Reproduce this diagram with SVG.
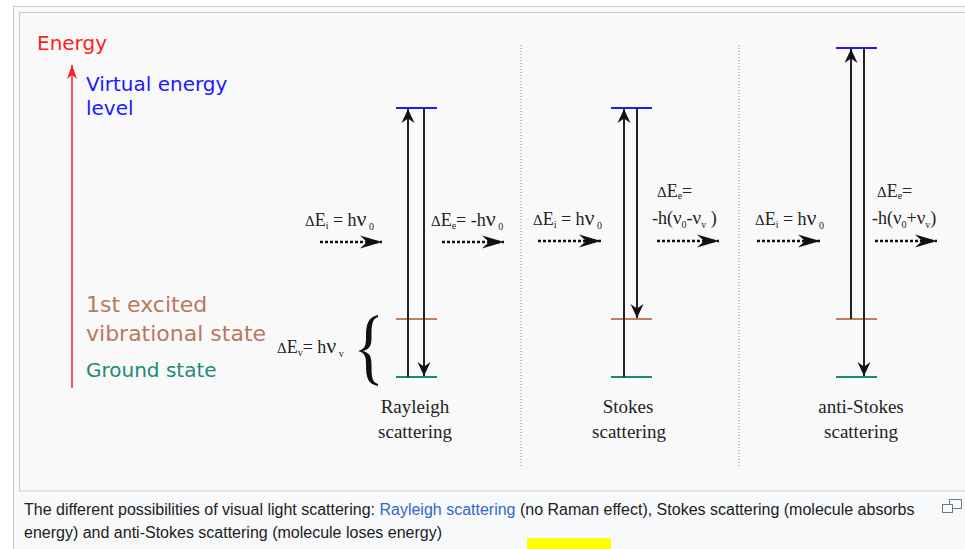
<svg xmlns="http://www.w3.org/2000/svg" width="965" height="549" viewBox="0 0 965 549">
<style>
.sans{font-family:"DejaVu Sans",sans-serif;font-size:20px}
.big{font-size:22px}
.serif{font-family:"Liberation Serif","Times New Roman",serif;fill:#222}
.lbl{font-size:19px;text-anchor:middle}
.fx{font-size:18px}
.nu{font-size:22px}
.nu2{font-size:19px}
.sub{font-size:10px}
.dlt{font-size:15px}
.cap{font-family:"Liberation Sans",Arial,sans-serif;font-size:16px;fill:#202122}
.tr{stroke:#222;stroke-width:2;fill:none}
.dot{stroke:#111;stroke-width:2.5;stroke-dasharray:3 2;fill:none}
.sep{stroke:#888;stroke-width:1;stroke-dasharray:1 2;fill:none}
.lv{stroke-width:2;fill:none}
.virt{stroke:#1a1aff}
.exc{stroke:#c0805e}
.gnd{stroke:#1b8a7a}
</style>
<defs>
<marker id="ah" viewBox="-14 -7 15 14" markerWidth="15" markerHeight="14" refX="0" refY="0" orient="auto" markerUnits="userSpaceOnUse">
<path d="M0,0 L-14,-6.5 L-9.5,0 L-14,6.5 Z" fill="#111"/>
</marker>
<marker id="dh" viewBox="-22 -7 23 14" markerWidth="23" markerHeight="14" refX="0" refY="0" orient="auto" markerUnits="userSpaceOnUse">
<path d="M0,0 L-22,-6.5 L-15,0 L-22,6.5 Z" fill="#111"/>
</marker>
<marker id="rh" viewBox="-14 -6 15 12" markerWidth="15" markerHeight="12" refX="0" refY="0" orient="auto" markerUnits="userSpaceOnUse">
<path d="M0,0 L-14,-5 L-10,0 L-14,5 Z" fill="#ff2020"/>
</marker>
</defs>
<rect x="0" y="0" width="965" height="549" fill="#ffffff"/>
<rect x="13.5" y="6.5" width="970" height="560" fill="#f8f9fa" stroke="#c8ccd1"/>
<rect x="19.5" y="12.5" width="960" height="478.5" fill="#f9f9f9" stroke="#c8ccd1"/>

<g id="axis">
<line x1="72" y1="388" x2="72" y2="65" stroke="#ff2020" stroke-width="1.5" marker-end="url(#rh)"/>
<text class="sans" x="37" y="50" fill="#ff2020">Energy</text>
</g>
<g id="legend">
<text class="sans" x="86" y="91" fill="#1a1aff">Virtual energy</text>
<text class="sans" x="86" y="115" fill="#1a1aff">level</text>
<text class="sans big" x="86" y="312" fill="#b87a5a">1st excited</text>
<text class="sans big" x="86" y="341" fill="#b87a5a">vibrational state</text>
<text class="sans" x="86" y="377" fill="#1b8a7a">Ground state</text>
</g>

<g id="separators">
<line class="sep" x1="521" y1="45" x2="521" y2="468"/>
<line class="sep" x1="739" y1="45" x2="739" y2="468"/>
</g>

<g id="rayleigh">
<line class="lv virt" x1="396" y1="108" x2="437" y2="108"/>
<line class="lv exc" x1="396" y1="319" x2="437" y2="319"/>
<line class="lv gnd" x1="396" y1="377" x2="437" y2="377"/>
<text class="serif lbl" x="415" y="413">Rayleigh</text>
<text class="serif lbl" x="415" y="438">scattering</text>
</g>
<g id="stokes">
<line class="lv virt" x1="611" y1="108" x2="652" y2="108"/>
<line class="lv exc" x1="611" y1="319" x2="652" y2="319"/>
<line class="lv gnd" x1="611" y1="377" x2="652" y2="377"/>
<text class="serif lbl" x="628" y="413">Stokes</text>
<text class="serif lbl" x="629" y="438">scattering</text>
</g>
<g id="antistokes">
<line class="lv virt" x1="836" y1="48" x2="877" y2="48"/>
<line class="lv exc" x1="836" y1="319" x2="877" y2="319"/>
<line class="lv gnd" x1="836" y1="377" x2="877" y2="377"/>
<text class="serif lbl" x="861" y="413">anti-Stokes</text>
<text class="serif lbl" x="861" y="438">scattering</text>
</g>

<g id="vib-gap">
<path d="M378,315 C368,317 366,324 366,337 C366,346 365,349 358,351 C365,353 366,356 366,365 C366,378 368,384 378,386 L378,384 C372,382 371.5,377 371.5,365 C371.5,355 369,353 363,351 C369,349 371.5,347 371.5,337 C371.5,325 372,319 378,317 Z" fill="#111"/>
<text class="serif fx" x="277" y="353"><tspan class="dlt">Δ</tspan>E<tspan class="sub" dy="3">v</tspan><tspan dy="-3">= h</tspan><tspan class="nu">ν</tspan><tspan class="sub" dy="4"> v</tspan></text>
</g>

<g id="labels">
<text class="serif fx" x="305" y="226"><tspan class="dlt">Δ</tspan>E<tspan class="sub" dy="3">i</tspan><tspan dy="-3"> = h</tspan><tspan class="nu">ν</tspan><tspan class="sub" dy="4"> 0</tspan></text>
<text class="serif fx" x="431" y="226"><tspan class="dlt">Δ</tspan>E<tspan class="sub" dy="3">e</tspan><tspan dy="-3">= -h</tspan><tspan class="nu">ν</tspan><tspan class="sub" dy="4"> 0</tspan></text>
<text class="serif fx" x="533" y="225"><tspan class="dlt">Δ</tspan>E<tspan class="sub" dy="3">i</tspan><tspan dy="-3"> = h</tspan><tspan class="nu">ν</tspan><tspan class="sub" dy="4"> 0</tspan></text>
<text class="serif fx" x="657" y="197"><tspan class="dlt">Δ</tspan>E<tspan class="sub" dy="2">e</tspan><tspan dy="-2">=</tspan></text>
<text class="serif fx" x="652" y="224">-h(<tspan class="nu2">ν</tspan><tspan class="sub" dy="4">0</tspan><tspan dy="-4">-</tspan><tspan class="nu2">ν</tspan><tspan class="sub" dy="4">v</tspan><tspan dy="-4"> )</tspan></text>
<text class="serif fx" x="755" y="225"><tspan class="dlt">Δ</tspan>E<tspan class="sub" dy="3">i</tspan><tspan dy="-3"> = h</tspan><tspan class="nu">ν</tspan><tspan class="sub" dy="4"> 0</tspan></text>
<text class="serif fx" x="877" y="197"><tspan class="dlt">Δ</tspan>E<tspan class="sub" dy="2">e</tspan><tspan dy="-2">=</tspan></text>
<text class="serif fx" x="872" y="224">-h(<tspan class="nu2">ν</tspan><tspan class="sub" dy="4">0</tspan><tspan dy="-4">+</tspan><tspan class="nu2">ν</tspan><tspan class="sub" dy="4">v</tspan><tspan dy="-4">)</tspan></text>
</g>

<g id="connectors">
<line class="tr" x1="408" y1="377" x2="408" y2="109" marker-end="url(#ah)"/>
<line class="tr" x1="424" y1="108" x2="424" y2="376" marker-end="url(#ah)"/>
<line class="tr" x1="624" y1="377" x2="624" y2="109" marker-end="url(#ah)"/>
<line class="tr" x1="637" y1="108" x2="637" y2="318" marker-end="url(#ah)"/>
<line class="tr" x1="851" y1="319" x2="851" y2="49" marker-end="url(#ah)"/>
<line class="tr" x1="864" y1="48" x2="864" y2="376" marker-end="url(#ah)"/>
<line class="dot" x1="320" y1="242" x2="382" y2="242" marker-end="url(#dh)"/>
<line class="dot" x1="442" y1="242" x2="504" y2="242" marker-end="url(#dh)"/>
<line class="dot" x1="538" y1="241" x2="601" y2="241" marker-end="url(#dh)"/>
<line class="dot" x1="657" y1="241" x2="719" y2="241" marker-end="url(#dh)"/>
<line class="dot" x1="757" y1="241" x2="820" y2="241" marker-end="url(#dh)"/>
<line class="dot" x1="875" y1="241" x2="937" y2="241" marker-end="url(#dh)"/>
</g>

<g id="caption">
<text class="cap" x="24" y="515">The different possibilities of visual light scattering: <tspan fill="#3366cc">Rayleigh scattering</tspan> (no Raman effect), Stokes scattering (molecule absorbs</text>
<text class="cap" x="24" y="538">energy) and anti-Stokes scattering (molecule loses energy)</text>
<rect x="949.5" y="499.5" width="12" height="9" fill="#f8f9fa" stroke="#72777d"/>
<rect x="942.5" y="504.5" width="10" height="8" fill="#f8f9fa" stroke="#72777d"/>
</g>
<rect x="527" y="538" width="84" height="11" fill="#ffff00"/>
</svg>
